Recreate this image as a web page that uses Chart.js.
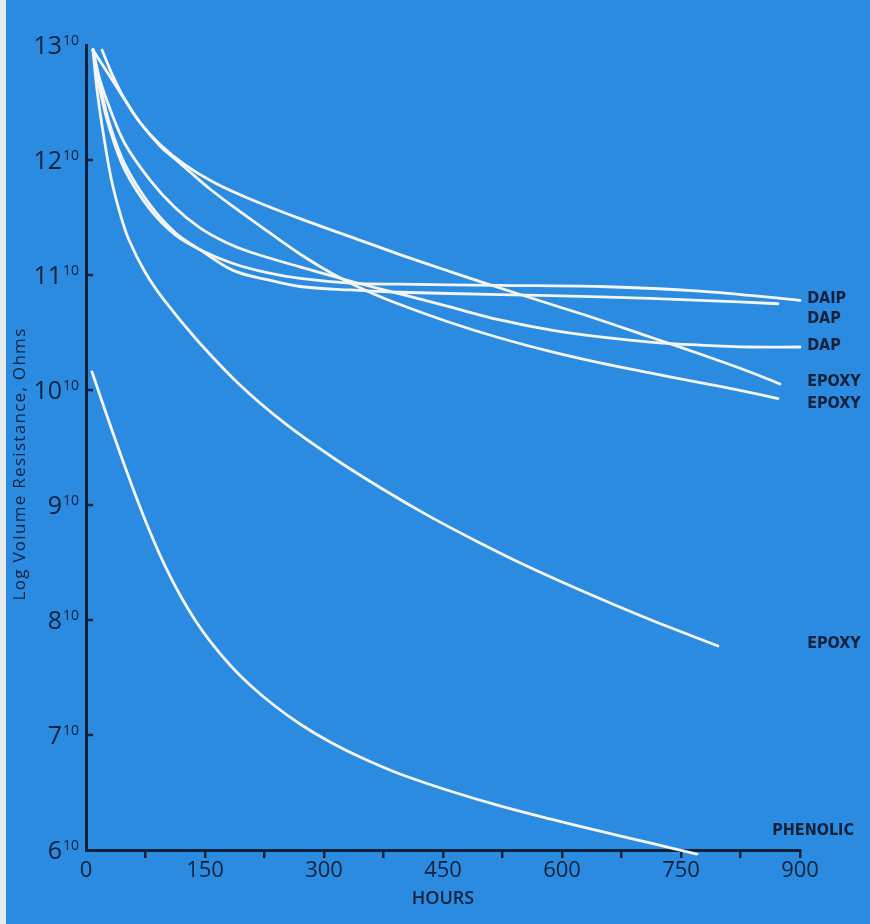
<!DOCTYPE html>
<html><head><meta charset="utf-8">
<script src="https://cdn.jsdelivr.net/npm/chart.js@4.4.1/dist/chart.umd.min.js"></script>
<style>html,body{margin:0;padding:0;background:#e4e9ec;}canvas{display:block}</style>
</head><body>
<canvas id="c" width="870" height="924"></canvas>
<script>
// ---- data (hours, log volume resistance) ----
const hoursEpoxyA = [20.2, 32.8, 49.2, 68.1, 93.3, 124.8, 162.6, 206.7, 269.7, 332.8, 395.8, 458.8, 521.8, 584.9, 647.9, 710.9, 773.9, 837, 874.8];
const valsEpoxyA  = [12.957, 12.748, 12.522, 12.326, 12.135, 11.957, 11.80, 11.661, 11.49, 11.334, 11.177, 11.03, 10.887, 10.748, 10.609, 10.461, 10.313, 10.157, 10.052];

const hoursEpoxyB = [8.8, 18.9, 29.0, 39.1, 49.2, 68.1, 93.3, 112.2, 131.1, 156.3, 187.8, 228.2, 269.7, 311.3, 354.2, 395.8, 458.8, 521.8, 584.9, 647.9, 710.9, 773.9, 824.4, 872.3];
const valsEpoxyB  = [12.957, 12.848, 12.739, 12.630, 12.522, 12.326, 12.122, 12.009, 11.896, 11.748, 11.583, 11.383, 11.183, 11.009, 10.861, 10.743, 10.587, 10.452, 10.335, 10.235, 10.148, 10.065, 9.996, 9.926];

const hoursDapLow = [8.8, 17.6, 30.3, 49.2, 80.7, 112.2, 143.7, 175.2, 206.7, 269.7, 332.8, 395.8, 458.8, 521.8, 584.9, 647.9, 710.9, 773.9, 837, 900];
const valsDapLow  = [12.957, 12.696, 12.443, 12.139, 11.826, 11.587, 11.409, 11.287, 11.20, 11.07, 10.948, 10.835, 10.722, 10.609, 10.522, 10.461, 10.417, 10.391, 10.374, 10.374];

const hoursDaip = [8.8, 17.6, 30.3, 49.2, 80.7, 112.2, 143.7, 185.3, 228.2, 269.7, 332.8, 395.8, 521.8, 647.9, 773.9, 900];
const valsDaip  = [12.96, 12.61, 12.26, 11.91, 11.57, 11.35, 11.22, 11.10, 11.02, 10.97, 10.93, 10.92, 10.91, 10.90, 10.86, 10.78];

const hoursDapHigh = [8.8, 17.6, 30.3, 49.2, 80.7, 112.2, 143.7, 185.3, 228.2, 269.7, 332.8, 395.8, 521.8, 647.9, 773.9, 872.3];
const valsDapHigh  = [12.96, 12.65, 12.30, 11.96, 11.61, 11.37, 11.22, 11.04, 10.96, 10.90, 10.87, 10.85, 10.83, 10.81, 10.78, 10.75];

const hoursEpoxyC = [8.8, 13.9, 22.1, 32.1, 43.5, 54.2, 74.4, 98.3, 139.9, 194.1, 250.8, 313.9, 376.9, 433.6, 496.6, 559.7, 622.7, 710.9, 796.6];
const valsEpoxyC  = [12.957, 12.609, 12.217, 11.826, 11.522, 11.304, 11.026, 10.783, 10.435, 10.043, 9.709, 9.40, 9.126, 8.899, 8.67, 8.456, 8.261, 8.004, 7.774];

const hoursPhenolic = [7.6, 25.2, 42.9, 61.8, 80.7, 99.6, 118.5, 137.4, 156.3, 181.5, 206.7, 238.2, 269.7, 307.6, 345.4, 395.8, 458.8, 521.8, 584.9, 647.9, 710.9, 770.2];
const valsPhenolic  = [10.157, 9.80, 9.452, 9.096, 8.765, 8.47, 8.217, 8.0, 7.817, 7.609, 7.435, 7.252, 7.096, 6.939, 6.809, 6.661, 6.513, 6.383, 6.27, 6.165, 6.061, 5.965];

// ---- axes / text ----
const yTickValues = [6, 7, 8, 9, 10, 11, 12, 13];
const yTickExponent = '10';
const xTickLabels = [0, 150, 300, 450, 600, 750, 900];
const yTitle = 'Log Volume Resistance, Ohms';
const xTitle = 'HOURS';

// curve end labels: text, value (y) and hour position (x)
const endLabelTexts  = ['DAIP', 'DAP', 'DAP', 'EPOXY', 'EPOXY', 'EPOXY', 'PHENOLIC'];
const endLabelValues = [10.79, 10.62, 10.38, 10.07, 9.88, 7.79, 6.17];
const endLabelHours  = [909, 909, 909, 909, 909, 909, 865];

const BLUE = '#2a8be0';
const NAVY = '#14213b';
const LINE = '#f4f5f0';

function pts(h, v) { return h.map((x, i) => ({x: x, y: v[i]})); }
const seriesList = [
  [hoursDaip, valsDaip], [hoursDapHigh, valsDapHigh], [hoursDapLow, valsDapLow],
  [hoursEpoxyA, valsEpoxyA], [hoursEpoxyB, valsEpoxyB], [hoursEpoxyC, valsEpoxyC],
  [hoursPhenolic, valsPhenolic]
];

const deco = {
  id: 'deco',
  beforeDraw(chart) {
    const c = chart.ctx;
    c.save();
    c.fillStyle = '#e4e9ec';
    c.fillRect(0, 0, chart.width, chart.height);
    c.fillStyle = BLUE;
    c.fillRect(6, 0, chart.width - 6, chart.height);
    c.restore();
  },
  afterDraw(chart) {
    const c = chart.ctx, ys = chart.scales.y, xs = chart.scales.x;
    const left = chart.chartArea.left;
    c.save();
    c.fillStyle = NAVY;
    c.strokeStyle = NAVY;
    // inward y tick marks
    c.lineWidth = 2.5;
    yTickValues.forEach(v => {
      if (v === 6 || v === 13) return;
      const y = ys.getPixelForValue(v);
      c.beginPath(); c.moveTo(left, y); c.lineTo(left + 7, y); c.stroke();
    });
    // y tick labels with superscript
    yTickValues.forEach(v => {
      const y = ys.getPixelForValue(v);
      c.font = '14px "Open Sans", sans-serif';
      c.textAlign = 'right'; c.textBaseline = 'alphabetic';
      const supRight = left - 7;
      const supW = c.measureText(yTickExponent).width;
      c.fillText(yTickExponent, supRight, y - 0);
      c.font = '25px "Open Sans", sans-serif';
      c.fillText(String(v), supRight - supW - 1, y + 9);
    });
    // y title
    c.translate(20, 464);
    c.rotate(-Math.PI / 2);
    c.font = '17px "Open Sans", sans-serif';
    c.textAlign = 'center'; c.textBaseline = 'middle';
    try { c.letterSpacing = '1.3px'; } catch (e) {}
    c.fillText(yTitle, 0, 0);
    c.restore();
    // end labels
    c.save();
    c.fillStyle = NAVY;
    c.font = 'bold 16px "DejaVu Sans Condensed", "DejaVu Sans", sans-serif';
    c.textAlign = 'left'; c.textBaseline = 'middle';
    endLabelTexts.forEach((t, i) => {
      c.fillText(t, xs.getPixelForValue(endLabelHours[i]), ys.getPixelForValue(endLabelValues[i]));
    });
    c.restore();
  }
};

new Chart(document.getElementById('c'), {
  type: 'line',
  data: {
    datasets: seriesList.map(s => ({
      data: pts(s[0], s[1]),
      borderColor: LINE,
      borderWidth: 2.8,
      pointRadius: 0,
      fill: false,
      tension: 0.35,
      clip: false
    }))
  },
  options: {
    responsive: false,
    animation: false,
    events: [],
    elements: { line: { capBezierPoints: false, borderCapStyle: 'round' } },
    layout: { padding: { top: 45, right: 70, left: 0, bottom: 0 } },
    plugins: { legend: { display: false }, tooltip: { enabled: false } },
    scales: {
      x: {
        type: 'linear', min: 0, max: 900,
        afterFit: s => { s.height = 74; },
        border: { display: true, color: NAVY, width: 3 },
        grid: {
          display: true, drawOnChartArea: false, drawTicks: true, tickLength: 8, lineWidth: 2.5,
          color: ctx => (ctx.tick && ctx.tick.value === 0) ? 'rgba(0,0,0,0)' : NAVY
        },
        ticks: {
          stepSize: 75, autoSkip: false, maxRotation: 0, padding: 0,
          color: NAVY, font: { family: '"Open Sans", sans-serif', size: 22 },
          callback: v => xTickLabels.includes(v) ? String(v) : ''
        },
        title: { display: true, text: xTitle, color: NAVY, padding: { top: 0, bottom: 14 },
                 font: { family: '"Open Sans", sans-serif', size: 18, weight: '600' } }
      },
      y: {
        type: 'linear', min: 6, max: 13,
        afterFit: s => { s.width = 86; },
        border: { display: true, color: NAVY, width: 3 },
        grid: { display: false },
        ticks: { display: false, stepSize: 1 }
      }
    }
  },
  plugins: [deco]
});
</script>
</body></html>
